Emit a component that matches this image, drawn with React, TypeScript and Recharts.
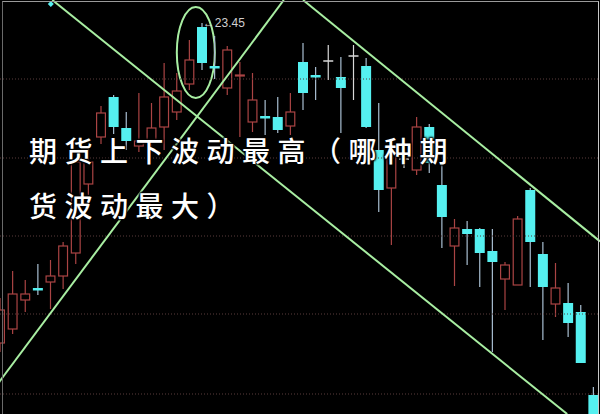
import React from 'react';
import { ComposedChart, Bar, XAxis, YAxis, ReferenceLine, ReferenceArea, ReferenceDot } from 'recharts';

// OHLC values (48 sessions)
const opens = [20.25, 20.39, 20.68, 20.80, 20.86, 20.92, 21.15, 21.84, 22.31, 22.71, 22.40, 22.22, 22.28, 22.41, 22.56, 22.84,
  23.41, 23.02, 22.80, 22.92, 22.46, 22.52, 22.51, 22.42, 23.06, 22.93, 23.07, 22.91, 23.12, 23.02, 22.18, 21.80,
  22.09, 21.98, 22.41, 21.83, 21.22, 21.39, 21.39, 21.17, 20.89, 20.83, 21.78, 21.14, 20.64, 20.65, 20.56, 19.73];
const closes = [20.58, 20.74, 20.74, 20.78, 20.92, 21.22, 22.06, 22.06, 22.55, 22.41, 22.27, 22.27, 22.40, 22.71, 22.77, 23.08,
  23.05, 23.00, 23.18, 22.93, 22.68, 22.50, 22.38, 22.56, 22.75, 22.91, 23.07, 22.80, 23.12, 22.41, 21.78, 22.15,
  22.09, 22.41, 22.05, 21.51, 21.40, 21.34, 21.15, 21.06, 21.03, 21.49, 21.26, 20.81, 20.80, 20.45, 20.05, 19.48];
const highs = [20.70, 20.97, 20.88, 21.04, 21.08, 21.26, 22.09, 22.20, 22.62, 22.73, 22.56, 22.75, 22.65, 23.05, 22.95, 23.28,
  23.45, 23.32, 23.22, 23.06, 22.95, 22.68, 22.71, 22.75, 23.25, 23.01, 23.23, 23.11, 23.23, 23.10, 22.65, 22.21,
  22.18, 22.51, 22.44, 22.03, 21.49, 21.47, 21.40, 21.39, 21.06, 21.52, 21.80, 21.26, 21.05, 20.85, 20.63, 19.81];
const lows = [20.16, 20.34, 20.56, 20.73, 20.59, 20.79, 21.04, 21.73, 22.24, 22.34, 22.18, 22.16, 22.18, 22.18, 22.48, 22.78,
  22.98, 22.89, 22.73, 22.31, 22.36, 22.33, 22.35, 22.33, 22.58, 22.68, 22.88, 22.35, 22.68, 22.40, 21.56, 21.23,
  22.00, 21.93, 21.95, 21.20, 20.82, 21.03, 20.81, 20.16, 20.58, 20.83, 20.81, 20.28, 20.51, 20.31, 20.05, 19.43];

// dotted horizontal grid levels
const gridPrices = [22.89, 22.10, 21.32, 20.54, 19.74];

// hand-drawn trend lines: [x1, price1, x2, price2] in session-index units
const trendLines = [
  [4.118, 23.68, 44.9, 19.54],
  [-0.5, 19.79, 22.455, 23.68],
  [23.98, 23.68, 47.5, 21.266],
];

// circled top: session span and price span
const circleX = [13.98, 16.99];
const circleY = [22.70, 23.61];

const peakIndex = 16;
const peakPrice = 23.45;
const peakLabel = '←23.45';

const markerIndex = 4;
const markerPrice = 23.64;

const titleLines = ['期货上下波动最高（哪种期', '货波动最大）'];

const data = opens.map((o, i) => ({
  i,
  open: o,
  close: closes[i],
  high: highs[i],
  low: lows[i],
  range: [lows[i], highs[i]],
}));

const RED = '#aa4444';
const CYAN = '#55f0f0';
const CYAN_WICK = '#a9bfd2';
const FLAT = '#d8d8d8';
const GREEN = '#a8eea2';

function Candle(props: any) {
  const { x, y, width, height, payload } = props;
  if (!payload) return null;
  const { open, close, high, low } = payload;
  const top = Math.min(y, y + height);
  const h = Math.abs(height);
  const k = high === low ? 0 : h / (high - low);
  const py = (v: number) => top + (high - v) * k;
  const cx = x + width / 2;
  const bTop = py(Math.max(open, close));
  const bBot = py(Math.min(open, close));
  const bottom = top + h;
  if (close > open) {
    return (
      <g>
        <line x1={cx} x2={cx} y1={top} y2={bTop} stroke={RED} strokeWidth={1.2} />
        <line x1={cx} x2={cx} y1={bBot} y2={bottom} stroke={RED} strokeWidth={1.2} />
        <rect x={x + 0.6} y={bTop} width={width - 1.2} height={Math.max(bBot - bTop, 1)} fill="#000" stroke={RED} strokeWidth={1.2} />
      </g>
    );
  }
  if (close < open) {
    const bh = Math.max(bBot - bTop, 2.5);
    return (
      <g>
        <line x1={cx} x2={cx} y1={top} y2={bottom} stroke={CYAN_WICK} strokeWidth={1.2} />
        <rect x={x} y={bTop} width={width} height={bh} fill={CYAN} />
      </g>
    );
  }
  return (
    <g>
      <line x1={cx} x2={cx} y1={top} y2={bottom} stroke={FLAT} strokeWidth={1.2} />
      <line x1={x} x2={x + width} y1={bTop} y2={bTop} stroke={FLAT} strokeWidth={1.5} />
    </g>
  );
}

function Ellipse(props: any) {
  const { x, y, width, height } = props;
  return (
    <ellipse cx={x + width / 2} cy={y + height / 2} rx={width / 2} ry={height / 2} fill="none" stroke={GREEN} strokeWidth={2} />
  );
}

function Diamond(props: any) {
  const { cx, cy } = props;
  return <polygon points={`${cx},${cy - 3} ${cx + 3},${cy} ${cx},${cy + 3} ${cx - 3},${cy}`} fill={CYAN} />;
}

export default function App() {
  return (
    <div style={{ position: 'fixed', left: 0, top: 0, width: 600, height: 414, background: '#000', overflow: 'hidden' }}>
      <div style={{ position: 'absolute', left: -5.8, top: 0 }}>
        <ComposedChart width={606} height={414} data={data} margin={{ top: 0, right: 0, bottom: 0, left: 0 }}>
          <XAxis dataKey="i" type="category" hide />
          <XAxis xAxisId="n" type="number" dataKey="i" domain={[-0.5, 47.5]} hide allowDataOverflow />
          <YAxis type="number" domain={[19.54, 23.68]} hide allowDataOverflow />
          {gridPrices.map((p) => (
            <ReferenceLine key={p} y={p} stroke="#5a3c3c" strokeDasharray="1 2" strokeWidth={1} />
          ))}
          <Bar dataKey="range" barSize={10} isAnimationActive={false} shape={Candle} />
          {trendLines.map((l, idx) => (
            <ReferenceLine
              key={idx}
              xAxisId="n"
              segment={[{ x: l[0], y: l[1] }, { x: l[2], y: l[3] }]}
              stroke={GREEN}
              strokeWidth={2}
              ifOverflow="visible"
            />
          ))}
          <ReferenceArea xAxisId="n" x1={circleX[0]} x2={circleX[1]} y1={circleY[0]} y2={circleY[1]} shape={Ellipse} ifOverflow="visible" />
          <ReferenceDot
            xAxisId="n"
            x={peakIndex}
            y={peakPrice}
            r={0.5}
            fill="none"
            stroke="none"
            label={{ value: peakLabel, position: 'right', offset: 0, fill: '#d0d0d0', fontSize: 12, fontFamily: 'Liberation Sans, Arial, sans-serif' }}
          />
          <ReferenceDot xAxisId="n" x={markerIndex} y={markerPrice} r={3} shape={Diamond} />
        </ComposedChart>
      </div>
      <div style={{ position: 'absolute', left: 2, top: 1, width: 595, height: 430, borderLeft: '1px solid #6a6a6a', borderTop: '1px solid #9a9a9a', borderRight: '1px solid #c8c8c8', pointerEvents: 'none' }} />
      <div
        style={{
          position: 'absolute',
          left: 29,
          top: 123,
          color: '#fff',
          fontFamily: '"Noto Sans CJK SC", sans-serif',
          fontSize: 28,
          fontWeight: 500,
          letterSpacing: '7.5px',
          lineHeight: '55px',
          whiteSpace: 'nowrap',
          textShadow: '1px 1px 2px #000, -1px -1px 2px #000, 1px -1px 2px #000, -1px 1px 2px #000',
        }}
      >
        {titleLines.map((t) => (
          <div key={t}>{t}</div>
        ))}
      </div>
    </div>
  );
}
